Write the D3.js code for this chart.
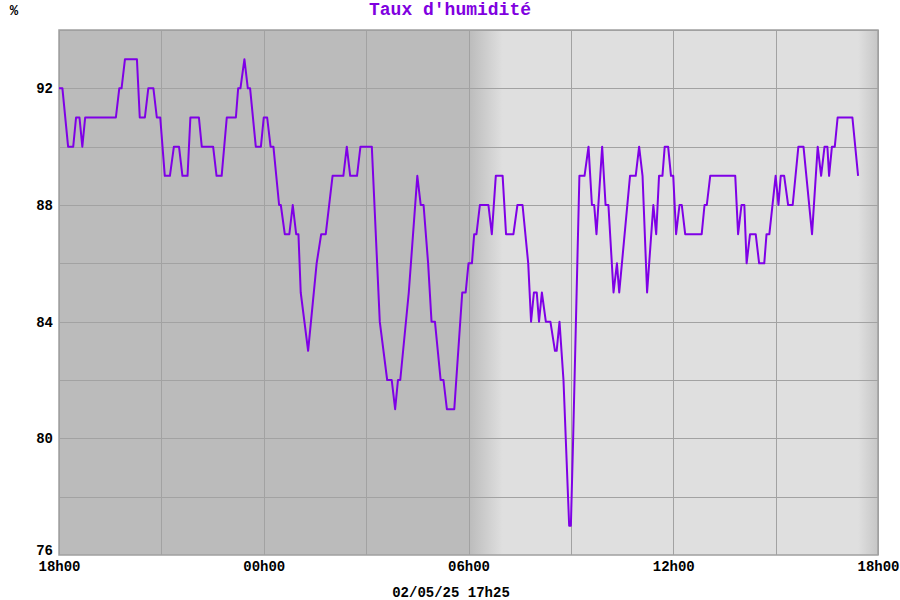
<!DOCTYPE html>
<html>
<head>
<meta charset="utf-8">
<script src="https://cdn.jsdelivr.net/npm/d3@7/dist/d3.min.js"></script>
<style>
  html, body { margin: 0; padding: 0; background: #ffffff; }
  svg { display: block; }
  text { font-family: "Liberation Mono", "DejaVu Sans Mono", monospace; font-weight: bold; }
</style>
</head>
<body>
<svg id="chart" width="900" height="600"></svg>
<script>
// ---- data ----
const title = "Taux d'humidité";
const unitLabel = "%";
const dateLabel = "02/05/25 17h25";
const startTime = "2025-05-01 18:00";
const endTime = "2025-05-02 18:00";
const yTickValues = [76, 80, 84, 88, 92];
const yGridValues = [78, 80, 82, 84, 86, 88, 90, 92, 94];

const times = [
  "18:00","18:06","18:16","18:25","18:30","18:36","18:41","18:46","19:40","19:46",
  "19:50","19:56","20:17","20:22","20:31","20:37","20:46","20:52","20:58","21:06",
  "21:15","21:22","21:31","21:37","21:46","21:51","22:06","22:11","22:31","22:37",
  "22:46","22:55","23:11","23:15","23:19","23:26","23:32","23:36","23:46","23:55",
  "00:00","00:06","00:12","00:17","00:27","00:30","00:37","00:45","00:51","00:57",
  "01:01","01:05","01:18","01:33","01:41","01:49","02:01","02:20","02:26","02:32",
  "02:44","02:50","03:10","03:24","03:37","03:45","03:51","03:56","04:00","04:15",
  "04:30","04:36","04:41","04:49","04:55","05:01","05:11","05:16","05:22","05:35",
  "05:49","05:55","06:00","06:06","06:10","06:14","06:20","06:35","06:41","06:48",
  "07:00","07:06","07:19","07:26","07:35","07:45","07:50","07:55","08:00","08:04",
  "08:09","08:16","08:24","08:32","08:35","08:40","08:47","08:57","09:00","09:04",
  "09:15","09:24","09:31","09:37","09:41","09:45","09:55","10:01","10:06","10:15",
  "10:21","10:25","10:44","10:54","11:00","11:06","11:14","11:25","11:30","11:35",
  "11:41","11:45","11:51","11:56","12:00","12:05","12:11","12:15","12:21","12:50",
  "12:55","12:59","13:05","13:49","13:54","14:00","14:05","14:09","14:15","14:25",
  "14:31","14:40","14:44","14:49","15:00","15:05","15:09","15:15","15:22","15:30",
  "15:40","15:49","16:04","16:14","16:20","16:26","16:31","16:34","16:39","16:44",
  "16:49","17:15","17:25"
];
const humidity = [
  92,92,90,90,91,91,90,91,91,92,
  92,93,93,91,91,92,92,91,91,89,
  89,90,90,89,89,91,91,90,90,89,
  89,91,91,92,92,93,92,92,90,90,
  91,91,90,90,88,88,87,87,88,87,
  87,85,83,86,87,87,89,89,90,89,
  89,90,90,84,82,82,81,82,82,85,
  89,88,88,86,84,84,82,82,81,81,
  85,85,86,86,87,87,88,88,87,89,
  89,87,87,88,88,86,84,85,85,84,
  85,84,84,83,83,84,82,77,77,80,
  89,89,90,88,88,87,90,88,88,85,
  86,85,89,89,90,89,85,88,87,89,
  89,90,90,89,89,87,88,88,87,87,
  88,88,89,89,87,88,88,86,87,87,
  86,86,87,87,89,88,89,89,88,88,
  90,90,87,90,89,90,90,89,90,90,
  91,91,89
];
// daylight shading stops (time, grey level)
const shadeTimes = ["2025-05-01 18:00", "2025-05-02 06:00", "2025-05-02 07:00", "2025-05-02 17:25", "2025-05-02 18:00"];
const shadeColors = ["#bbbbbb", "#bbbbbb", "#dfdfdf", "#dfdfdf", "#c6c6c6"];

// ---- layout ----
const svg = d3.select("#chart");
const margin = { left: 59, right: 22, top: 30, bottom: 45 };
const W = 900, H = 600;
const iw = W - margin.left - margin.right;
const ih = H - margin.top - margin.bottom;

const parse = d3.timeParse("%Y-%m-%d %H:%M");
const t0 = parse(startTime), t1 = parse(endTime);
const data = times.map((t, i) => {
  const h = +t.slice(0, 2);
  const day = h >= 18 ? "2025-05-01" : "2025-05-02";
  return { t: parse(day + " " + t), v: humidity[i] };
});

const x = d3.scaleTime().domain([t0, t1]).range([0, iw]);
const y = d3.scaleLinear().domain([76, 94]).range([ih, 0]);

const defs = svg.append("defs");
const grad = defs.append("linearGradient").attr("id", "bg")
  .attr("gradientUnits", "userSpaceOnUse")
  .attr("x1", 0).attr("x2", iw).attr("y1", 0).attr("y2", 0);
shadeTimes.forEach((s, i) => {
  grad.append("stop").attr("offset", x(parse(s)) / iw).attr("stop-color", shadeColors[i]);
});

const g = svg.append("g").attr("transform", `translate(${margin.left},${margin.top})`);

g.append("rect").attr("width", iw).attr("height", ih).attr("fill", "url(#bg)");

// grid
g.append("g").attr("class", "ygrid")
  .call(d3.axisLeft(y).tickValues(yGridValues).tickSize(-iw).tickFormat(""))
  .call(s => s.select(".domain").remove())
  .call(s => s.selectAll("line").attr("stroke", "#a2a2a2").attr("stroke-width", 1).attr("shape-rendering", "crispEdges"));
g.append("g").attr("class", "xgrid").attr("transform", `translate(0,${ih})`)
  .call(d3.axisBottom(x).ticks(d3.timeHour.every(3)).tickSize(-ih).tickFormat(""))
  .call(s => s.select(".domain").remove())
  .call(s => s.selectAll("line").attr("stroke", "#a2a2a2").attr("stroke-width", 1).attr("shape-rendering", "crispEdges"));

// frame
g.append("rect").attr("width", iw).attr("height", ih).attr("fill", "none")
  .attr("stroke", "#a0a0a0").attr("stroke-width", 1.5);

// line
const line = d3.line().x(d => x(d.t)).y(d => y(d.v));
g.append("path").datum(data).attr("d", line)
  .attr("fill", "none").attr("stroke", "#7f00e6").attr("stroke-width", 2)
  .attr("stroke-linejoin", "round");

// y axis labels
g.append("g").attr("class", "yaxis")
  .call(d3.axisLeft(y).tickValues(yTickValues).tickSize(0).tickPadding(6).tickFormat(d3.format("d")))
  .call(s => s.select(".domain").remove())
  .call(s => s.selectAll("text").attr("fill", "#000").style("font-size", "14px"))
  .call(s => s.selectAll(".tick").filter(d => d === 76).select("text").attr("dy", "-0.05em"));

// x axis labels
g.append("g").attr("class", "xaxis").attr("transform", `translate(0,${ih})`)
  .call(d3.axisBottom(x).ticks(d3.timeHour.every(6)).tickSize(0).tickPadding(6)
    .tickFormat(d3.timeFormat("%Hh%M")))
  .call(s => s.select(".domain").remove())
  .call(s => s.selectAll("text").attr("fill", "#000").style("font-size", "14px"));

// texts
svg.append("text").attr("x", 450).attr("y", 15).attr("text-anchor", "middle")
  .attr("fill", "#8000e0").style("font-size", "18px").text(title);
svg.append("text").attr("x", 14).attr("y", 15).attr("text-anchor", "middle")
  .attr("fill", "#000").style("font-size", "14px").text(unitLabel);
svg.append("text").attr("x", 451).attr("y", 597).attr("text-anchor", "middle")
  .attr("fill", "#000").style("font-size", "14px").text(dateLabel);
</script>
</body>
</html>
